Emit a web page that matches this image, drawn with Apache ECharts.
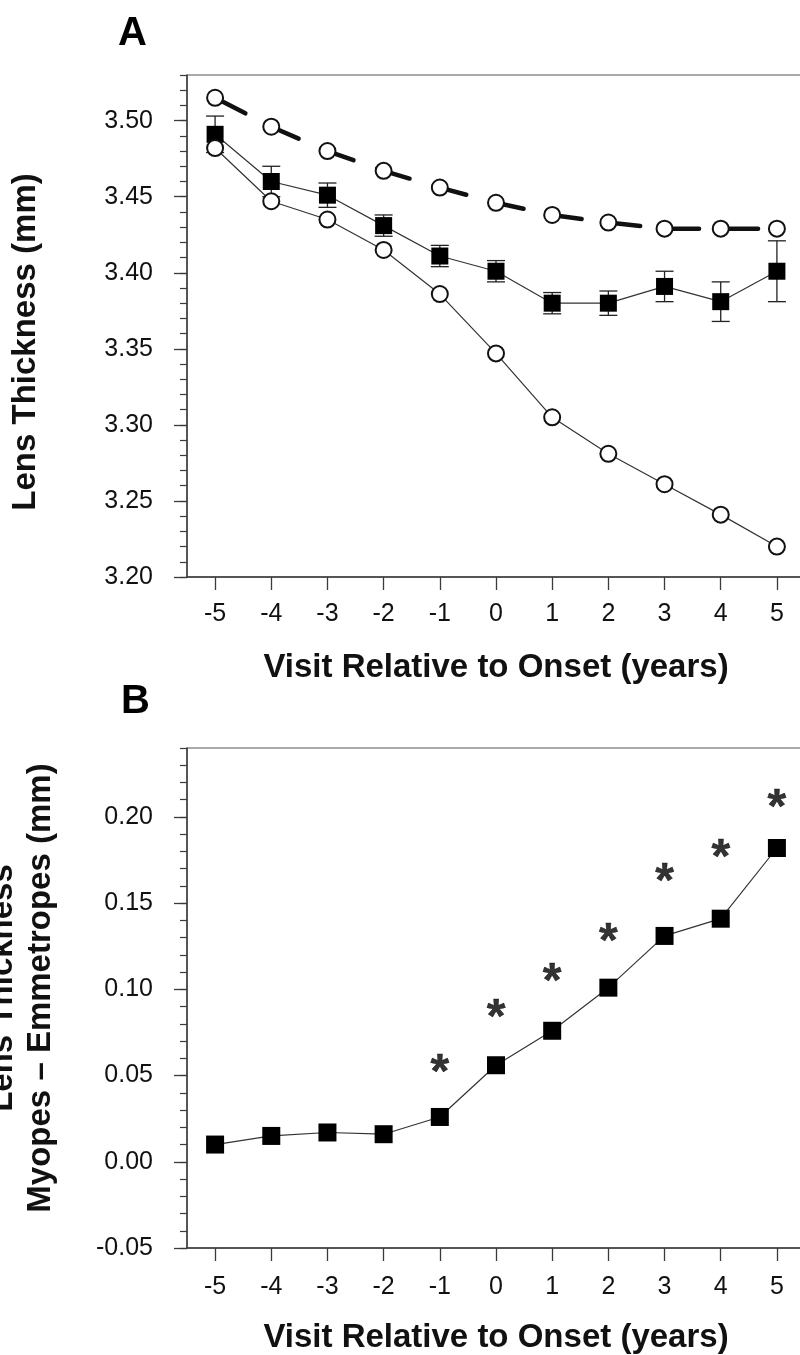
<!DOCTYPE html>
<html>
<head>
<meta charset="utf-8">
<script src="https://cdn.jsdelivr.net/npm/echarts@6/dist/echarts.min.js"></script>
<style>
  html, body { margin: 0; padding: 0; background: #fff; }
  #chart { width: 800px; height: 1355px; }
</style>
</head>
<body>
<div id="chart"></div>
<script>
// visit relative to onset (years)
const years = [-5, -4, -3, -2, -1, 0, 1, 2, 3, 4, 5]

// panel A, lens thickness (mm)
const dashedCircles = [3.515, 3.496, 3.480, 3.467, 3.456, 3.446, 3.438, 3.433, 3.429, 3.429, 3.429]
const myopes = [3.491, 3.460, 3.451, 3.431, 3.411, 3.401, 3.380, 3.380, 3.391, 3.381, 3.401]
const myopesErr = [0.012, 0.010, 0.008, 0.007, 0.007, 0.007, 0.007, 0.008, 0.010, 0.013, 0.020]
const emmetropes = [3.482, 3.447, 3.435, 3.415, 3.386, 3.347, 3.305, 3.281, 3.261, 3.241, 3.220]

// panel B, myopes - emmetropes (mm)
const difference = [0.010, 0.015, 0.017, 0.016, 0.026, 0.056, 0.076, 0.101, 0.131, 0.141, 0.182]
const starYears = [-1, 0, 1, 2, 3, 4, 5]
const starLevels = [0.058, 0.090, 0.111, 0.134, 0.169, 0.183, 0.212]

// tick labels
const yTicksA = [3.20, 3.25, 3.30, 3.35, 3.40, 3.45, 3.50]
const yTicksB = [-0.05, 0.00, 0.05, 0.10, 0.15, 0.20]

const FONT = 'Liberation Sans, Arial, sans-serif'
const INK = '#111'
const AXIS = '#3a3a3a'

function minorTicks(min, max) {
  const out = []
  for (let v = Math.round(min * 100); v <= Math.round(max * 100); v++) out.push(v / 100)
  return out
}

function xAxisFor(gridIndex, gap, labelMargin) {
  return {
    type: 'value', gridIndex, min: -5.5, max: 5.5,
    name: 'Visit Relative to Onset (years)', nameLocation: 'middle', nameGap: gap,
    nameTextStyle: { fontSize: 33, fontWeight: 'bold', color: INK, fontFamily: FONT },
    axisLine: { onZero: false, lineStyle: { color: AXIS, width: 1.5 } },
    axisTick: { customValues: years, length: 13, lineStyle: { color: AXIS, width: 1.3 } },
    axisLabel: { customValues: years, fontSize: 25, margin: labelMargin, color: INK, fontFamily: FONT },
    splitLine: { show: false }
  }
}

function yAxesFor(gridIndex, min, max, ticks, name, gap, pad) {
  return [{
    type: 'value', gridIndex, min, max, position: 'left',
    name, nameLocation: 'middle', nameGap: gap,
    nameTextStyle: { fontSize: 33, fontWeight: 'bold', color: INK, fontFamily: FONT, lineHeight: 38, padding: pad },
    axisLine: { onZero: false, lineStyle: { color: AXIS, width: 1.5 } },
    axisTick: { customValues: ticks, length: 13, lineStyle: { color: AXIS, width: 1.3 } },
    axisLabel: { customValues: ticks, fontSize: 25, margin: 34, color: INK, fontFamily: FONT,
      formatter: v => v.toFixed(2) },
    splitLine: { show: false }
  }, {
    type: 'value', gridIndex, min, max, position: 'left',
    axisLine: { show: false, onZero: false },
    axisTick: { customValues: minorTicks(min, max), length: 7, lineStyle: { color: AXIS, width: 1.2 } },
    axisLabel: { show: false },
    splitLine: { show: false }
  }]
}

function errorBars(params, api) {
  const x = api.value(0)
  const lo = api.coord([x, api.value(1)])
  const hi = api.coord([x, api.value(2)])
  const w = 9
  const style = { stroke: '#222', lineWidth: 1.3 }
  return {
    type: 'group',
    children: [
      { type: 'line', shape: { x1: hi[0], y1: hi[1], x2: lo[0], y2: lo[1] }, style },
      { type: 'line', shape: { x1: hi[0] - w, y1: hi[1], x2: hi[0] + w, y2: hi[1] }, style },
      { type: 'line', shape: { x1: lo[0] - w, y1: lo[1], x2: lo[0] + w, y2: lo[1] }, style }
    ]
  }
}

const pairs = vals => years.map((x, i) => [x, vals[i]])

const chart = echarts.init(document.getElementById('chart'))
chart.setOption({
  animation: false,
  backgroundColor: '#fff',
  textStyle: { fontFamily: FONT },
  title: [
    { text: 'A', left: 113, top: 9, textStyle: { fontSize: 40, fontWeight: 'bold', color: '#000', fontFamily: FONT } },
    { text: 'B', left: 116, top: 677, textStyle: { fontSize: 40, fontWeight: 'bold', color: '#000', fontFamily: FONT } }
  ],
  grid: [
    { left: 187, top: 75, right: -5, height: 502, outerBoundsMode: 'none', containLabel: false,
      show: true, borderColor: '#555', borderWidth: 1, backgroundColor: 'transparent' },
    { left: 187, top: 748, right: -5, height: 500, outerBoundsMode: 'none', containLabel: false,
      show: true, borderColor: '#555', borderWidth: 1, backgroundColor: 'transparent' }
  ],
  xAxis: [xAxisFor(0, 74, 25), xAxisFor(1, 73, 27)],
  yAxis: [
    ...yAxesFor(0, 3.20, 3.53, yTicksA, 'Lens Thickness (mm)', 142, [0, 32, 0, 0]),
    ...yAxesFor(1, -0.05, 0.24, yTicksB, 'Lens Thickness\nMyopes \u2013 Emmetropes (mm)', 127, [0, 0, 0, 20])
  ],
  series: [
    {
      type: 'custom', xAxisIndex: 0, yAxisIndex: 0, z: 1,
      renderItem: errorBars,
      data: years.map((x, i) => [x, myopes[i] - myopesErr[i], myopes[i] + myopesErr[i]])
    },
    {
      type: 'line', xAxisIndex: 0, yAxisIndex: 0, z: 2,
      data: pairs(myopes),
      symbol: 'rect', symbolSize: 17,
      lineStyle: { color: '#333', width: 1.2 },
      itemStyle: { color: '#000', borderWidth: 0 }
    },
    {
      type: 'line', xAxisIndex: 0, yAxisIndex: 0, z: 3,
      data: pairs(emmetropes),
      symbol: 'circle', symbolSize: 16,
      lineStyle: { color: '#333', width: 1.2 },
      itemStyle: { color: '#fff', borderColor: INK, borderWidth: 2 }
    },
    {
      type: 'line', xAxisIndex: 0, yAxisIndex: 0, z: 4,
      data: pairs(dashedCircles),
      symbol: 'circle', symbolSize: 16,
      lineStyle: { color: INK, width: 4.5, type: [34, 25], cap: 'round' },
      itemStyle: { color: '#fff', borderColor: INK, borderWidth: 2 }
    },
    {
      type: 'line', xAxisIndex: 1, yAxisIndex: 2, z: 2,
      data: pairs(difference),
      symbol: 'rect', symbolSize: 18,
      lineStyle: { color: '#333', width: 1.2 },
      itemStyle: { color: '#000', borderWidth: 0 }
    },
    {
      type: 'scatter', xAxisIndex: 1, yAxisIndex: 2, z: 3,
      data: starYears.map((x, i) => [x, starLevels[i]]),
      symbolSize: 0,
      label: {
        show: true, position: 'inside', formatter: '*', offset: [0, 12],
        fontSize: 48, fontWeight: 'bold', color: '#000', fontFamily: FONT,
        textBorderColor: '#000', textBorderWidth: 0.5
      }
    }
  ]
})
</script>
</body>
</html>
